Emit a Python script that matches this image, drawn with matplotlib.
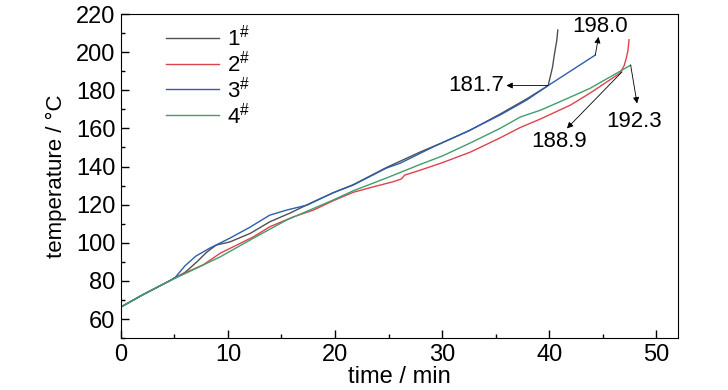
import matplotlib
matplotlib.use("Agg")
import matplotlib.pyplot as plt
from matplotlib.ticker import MultipleLocator

plt.rcParams['font.family'] = ['Liberation Sans', 'DejaVu Sans']
plt.rcParams['mathtext.default'] = 'regular'

# data: time (min), temperature (C)
t1 = [0, 2, 4.6, 6.0, 7.1, 8.0, 8.9, 10.2, 12.1, 13.9, 15.8, 17.7, 19.8, 21.7, 24.8,
      27.9, 30.0, 32.6, 35.4, 37.9, 39.9, 40.3, 40.5, 40.7, 40.8]
T1 = [66.3, 72.6, 80.2, 84.5, 90.0, 95.0, 98.8, 100.5, 105.0, 111.0, 115.6, 120.8, 126.2,
      130.5, 139.5, 147.5, 152.5, 159.0, 167.5, 175.5, 182.5, 192.0, 199.5, 206.0, 211.6]

t2 = [0, 2, 4.6, 6.0, 7.7, 9.3, 12.4, 13.9, 16.1, 18.0, 19.8, 21.7, 23.6, 25.4, 26.2,
      26.5, 27.9, 30.0, 32.6, 35.4, 37.3, 39.2, 42.0, 43.8, 46.6, 47.0, 47.2, 47.35, 47.45]
T2 = [66.3, 72.6, 80.2, 84.2, 88.5, 94.6, 103.2, 108.4, 113.6, 117.2, 122.0, 126.5, 129.4,
      132.0, 133.5, 135.5, 138.0, 142.0, 147.5, 155.0, 160.5, 165.0, 172.3, 178.5, 189.0,
      193.0, 197.0, 201.0, 206.5]

t3 = [0, 2, 4.6, 5.1, 6.0, 7.0, 8.3, 10.2, 12.0, 13.9, 15.5, 17.4, 19.8, 21.7, 24.8,
      26.1, 29.2, 32.3, 35.4, 37.9, 39.9, 44.3]
T3 = [66.3, 72.6, 80.2, 82.0, 88.0, 93.0, 97.2, 102.5, 108.0, 114.5, 117.2, 119.8, 126.2,
      130.3, 139.2, 141.8, 150.4, 158.3, 167.0, 174.9, 182.5, 198.5]

t4 = [0, 2, 4.6, 7.0, 9.3, 12.4, 15.5, 19.8, 21.7, 24.8, 27.9, 30.0, 32.6, 35.4, 37.3,
      39.2, 42.0, 43.8, 46.8, 47.6]
T4 = [66.3, 72.6, 80.2, 86.5, 92.7, 102.5, 112.0, 122.4, 127.3, 134.0, 141.0, 145.5, 152.3,
      160.0, 166.0, 169.6, 176.5, 181.0, 190.6, 193.2]

labels = ['1$^{\\#}$', '2$^{\\#}$', '3$^{\\#}$', '4$^{\\#}$']
colors = ['#505050', '#e0424c', '#2b5fae', '#3f9e6e']

# annotated values: (label, curve point, arrow head, text position)
notes = [
    ('198.0', (44.3, 198.5), (44.6, 208.0), (44.7, 213.3)),
    ('181.7', (39.9, 182.5), (36.0, 182.5), (33.2, 182.7)),
    ('188.9', (46.8, 189.7), (41.65, 160.0), (40.9, 153.0)),
    ('192.3', (47.6, 193.2), (48.2, 173.1), (47.9, 163.5)),
]

fig = plt.figure(figsize=(7.28, 3.9), dpi=100)
ax = fig.add_axes([0.166, 0.133, 0.765, 0.831])

for t, T, lab, c in zip([t1, t2, t3, t4], [T1, T2, T3, T4], labels, colors):
    ax.plot(t, T, color=c, lw=1.0, label=lab)

for txt, tail, head, pos in notes:
    ax.annotate('', xy=head, xytext=tail,
                arrowprops=dict(arrowstyle='-|>', color='black', lw=0.6,
                                mutation_scale=9, shrinkA=0, shrinkB=0))
    ax.text(pos[0], pos[1], txt, fontsize=16, ha='center', va='center')

ax.set_xlim(0, 52)
ax.set_ylim(50, 220)
ax.xaxis.set_major_locator(MultipleLocator(10))
ax.xaxis.set_minor_locator(MultipleLocator(5))
ax.yaxis.set_major_locator(MultipleLocator(20))
ax.yaxis.set_minor_locator(MultipleLocator(10))
ax.set_yticks(range(60, 221, 20))
ax.tick_params(which='both', direction='in', top=False, right=False, labelsize=17, pad=4)
ax.tick_params(which='major', length=6, width=1)
ax.tick_params(which='minor', length=3, width=1)

ax.set_xlabel('time / min', fontsize=17, labelpad=0)
ax.set_ylabel('temperature / \u00b0C', fontsize=16, labelpad=6)

ax.legend(loc='upper left', bbox_to_anchor=(0.065, 0.995), frameon=False, fontsize=16,
          handlelength=2.4, handletextpad=0.35, labelspacing=0.0, borderaxespad=0)

fig.savefig('out.png', dpi=100)
